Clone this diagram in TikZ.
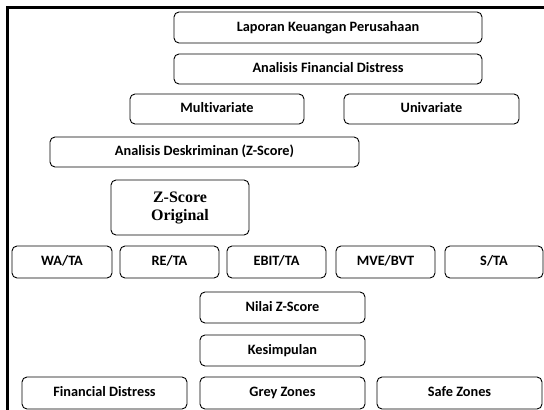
\documentclass[tikz,border=0pt]{standalone}
\usepackage{fontspec}
\setmainfont[Ligatures=NoCommon]{Carlito}
\newfontfamily\serifbold{Liberation Serif}
\begin{document}
\begin{tikzpicture}[x=1pt,y=-1pt,
  box/.style={draw=black, line width=0.9pt, rounded corners=5pt, inner sep=0pt, align=center,
    text height=1.7ex, text depth=0.1ex,
    font=\fontsize{14.3}{16}\selectfont\bfseries},
  zbox/.style={box, text height=, text depth=, font=\serifbold\fontsize{16}{18}\selectfont\bfseries}]
\useasboundingbox (0,0) rectangle (544,410);
\newcommand{\bx}[7][box]{%
  \node[#1, minimum width={(#5-#3)*1pt}, minimum height={(#6-#4)*1pt}] (#2) at ({(#3+#5)/2},{(#4+#6)/2}) {#7};}
\coordinate (tl) at (7.5,7.5);
\coordinate (tr) at (544,7.5);
\coordinate (bl) at (7.5,410);
\draw[line width=3pt] (tr) -- (tl) -- (bl);
\bx{lap}{174}{12}{482}{43}{Laporan Keuangan Perusahaan}
\bx{afd}{174}{54}{482}{84}{Analisis Financial Distress}
\bx{mul}{130}{94}{304}{124}{Multivariate}
\bx{uni}{344}{94}{519}{124}{Univariate}
\bx{des}{50}{137}{359}{167}{Analisis Deskriminan (Z-Score)}
\bx[zbox]{zso}{111}{180}{249}{235}{Z-Score\\Original}
\bx{wata}{12}{246}{112}{278}{WA/TA}
\bx{reta}{120}{246}{219}{278}{RE/TA}
\bx{ebit}{227}{246}{326}{278}{EBIT/TA}
\bx{mve}{336}{246}{435}{278}{MVE/BVT}
\bx{sta}{445}{246}{543}{278}{S/TA}
\bx{nil}{200}{292}{365}{323}{Nilai Z-Score}
\bx{kes}{200}{335}{365}{366}{Kesimpulan}
\bx{fd}{22}{377}{187}{409}{Financial Distress}
\bx{grey}{200}{377}{365}{409}{Grey Zones}
\bx{safe}{377}{377}{542}{409}{Safe Zones}
\end{tikzpicture}
\end{document}
